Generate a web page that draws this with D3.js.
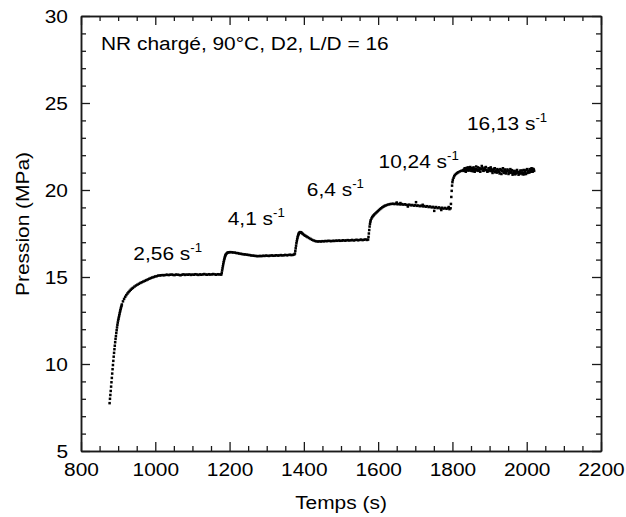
<!DOCTYPE html>
<html>
<head>
<meta charset="utf-8">
<script src="https://cdn.jsdelivr.net/npm/d3@7"></script>
<style>
  html, body { margin: 0; padding: 0; background: #fff; }
  svg text { font-family: "Liberation Sans", Arial, sans-serif; fill: #000; }
</style>
</head>
<body>
<svg id="chart" width="626" height="517"></svg>
<script>
// ---------- data ----------
const xTicks = [800, 1000, 1200, 1400, 1600, 1800, 2000, 2200];
const yTicks = [5, 10, 15, 20, 25, 30];

const rateLabels = ["2,56", "4,1", "6,4", "10,24", "16,13"];
const rateLabelX = [941, 1195, 1408, 1601, 1839];
const rateLabelY = [15.98, 17.99, 19.66, 21.26, 23.45];

const titleText = "NR chargé, 90°C, D2, L/D = 16";

// step 1 : 2,56 s-1
const t1 = [877,878,879,880,881,882,883,884,885,886,887,888,889,890,891,892,893,894,895,896,897,898,899,900,901,902,903,904,905,906,907,908,909,910,
  913,916,919,922,925,928,931,934,937,940,944,948,952,956,960,964,968,972,976,980,984,988,992,996,1000,1004,
  1008,1012,1016,1020,1024,1028,1032,1036,1040,1044,1048,1052,1056,1060,1064,1068,1072,1076,1080,1084,1088,1092,1096,1100,
  1104,1108,1112,1116,1120,1124,1128,1132,1136,1140,1144,1148,1152,1156,1160,1164,1168,1172,1176];
const p1 = [7.75,8.0,8.22,8.45,8.7,8.95,9.2,9.45,9.7,9.94,10.18,10.42,10.64,10.85,11.05,11.25,11.44,11.6,11.78,11.94,12.1,12.25,12.38,12.5,12.6,12.7,12.8,12.9,13.0,13.09,13.18,13.26,13.34,13.42,
  13.6,13.74,13.86,13.96,14.05,14.13,14.2,14.27,14.33,14.38,14.45,14.51,14.56,14.61,14.66,14.7,14.74,14.78,14.82,14.86,14.9,14.94,14.97,15.0,15.03,15.05,
  15.08,15.09,15.1,15.11,15.1,15.12,15.13,15.11,15.13,15.14,15.12,15.11,15.14,15.13,15.12,15.1,15.13,15.15,15.12,15.14,15.13,15.15,15.12,15.14,
  15.13,15.16,15.14,15.12,15.15,15.13,15.15,15.17,15.14,15.13,15.16,15.14,15.15,15.17,15.15,15.13,15.16,15.15,15.14];

// step 2 : 4,1 s-1
const t2 = [1178,1179,1180,1181,1182,1183,1184,1185,1186,1187,1188,1189,1190,1192,1194,1196,1199,1202,1206,1210,1214,1218,1222,1226,1230,1234,1238,1242,1246,1250,
  1254,1258,1262,1266,1270,1274,1278,1282,1286,1290,1294,1298,1302,1306,1310,1314,1318,1322,1326,1330,1334,1338,1342,1346,1350,1354,1358,1362,1366,1370,1374];
const p2 = [15.15,15.25,15.38,15.5,15.62,15.74,15.85,15.95,16.04,16.12,16.19,16.25,16.3,16.35,16.39,16.41,16.42,16.43,16.42,16.41,16.4,16.38,16.37,16.35,16.33,16.32,16.3,16.3,16.28,16.27,
  16.26,16.24,16.23,16.22,16.21,16.2,16.2,16.21,16.2,16.22,16.21,16.23,16.22,16.21,16.23,16.24,16.22,16.23,16.25,16.23,16.24,16.26,16.24,16.25,16.27,16.25,16.26,16.28,16.26,16.27,16.29];

// step 3 : 6,4 s-1
const t3 = [1376,1377,1378,1379,1380,1381,1382,1383,1384,1385,1386,1387,1388,1390,1392,1394,1396,1398,1401,1404,1407,1410,1414,1418,1422,1426,1430,1434,1438,1442,
  1446,1450,1454,1458,1462,1466,1470,1474,1478,1482,1486,1490,1494,1498,1502,1506,1510,1514,1518,1522,1526,1530,1534,1538,1542,1546,1550,1554,1558,1562,1566,1570,1573];
const p3 = [16.35,16.5,16.65,16.8,16.94,17.06,17.17,17.27,17.35,17.42,17.48,17.52,17.55,17.58,17.57,17.54,17.5,17.46,17.41,17.37,17.33,17.29,17.24,17.19,17.14,17.1,17.07,17.05,17.04,17.05,
  17.04,17.06,17.05,17.07,17.06,17.08,17.07,17.06,17.08,17.07,17.09,17.08,17.1,17.08,17.09,17.11,17.09,17.1,17.12,17.1,17.11,17.13,17.1,17.12,17.14,17.11,17.13,17.15,17.12,17.14,17.16,17.13,17.15];

// step 4 : 10,24 s-1
const t4 = [1574,1575,1576,1577,1578,1579,1580,1582,1584,1586,1588,1590,1593,1596,1599,1602,1605,1608,1611,1614,1617,1620,1624,1628,1632,1636,1640,1644,1648,1652,
  1656,1660,1664,1668,1672,1676,1680,1684,1688,1692,1696,1700,1704,1708,1712,1716,1720,1724,1728,1732,1736,1740,1744,1748,1752,1756,1760,1764,1768,1772,
  1776,1780,1784,1788,1792,1795,1702,1751,1650,1660,1680,1720,1770,1790];
const p4 = [17.3,17.5,17.7,17.9,18.05,18.17,18.26,18.36,18.44,18.5,18.55,18.6,18.66,18.72,18.78,18.84,18.9,18.95,19.0,19.04,19.08,19.11,19.14,19.17,19.19,19.2,19.21,19.19,19.22,19.18,
  19.2,19.17,19.19,19.16,19.18,19.15,19.13,19.16,19.12,19.14,19.1,19.13,19.09,19.11,19.07,19.1,19.06,19.08,19.04,19.07,19.02,19.05,19.0,19.03,18.98,19.02,18.96,19.0,18.94,18.98,
  18.93,18.97,18.92,18.96,18.9,18.95,19.3,18.8,19.28,19.25,19.05,19.15,18.85,19.02];

// step 5 : 16,13 s-1
const t5 = [1796,1797,1798,1799,1800,1801,1803,1805,1807,1810,1813,1816,1820,1824,1828,1831,1834,1837,1840,1843,1846,1849,1852,1855,1858,1861,1864,1867,1870,1873,
  1876,1879,1882,1885,1888,1891,1894,1897,1900,1903,1906,1909,1912,1915,1918,1921,1924,1927,1930,1933,1936,1939,1942,1945,1948,1951,1954,1957,1960,1963,
  1966,1969,1972,1975,1978,1981,1984,1987,1990,1993,1996,1999,2002,2005,2008,2011,2014,2017,2020];
const p5 = [19.2,19.6,19.95,20.25,20.45,20.58,20.7,20.8,20.87,20.93,20.98,21.02,21.07,21.1,21.13,21.18,21.1,21.22,21.15,21.3,21.12,21.2,21.26,21.08,21.22,21.15,21.35,21.18,21.1,21.25,
  21.2,21.38,21.12,21.22,21.28,21.15,21.05,21.24,21.18,21.3,21.08,21.15,21.22,21.02,21.12,21.2,21.06,20.95,21.15,21.08,21.25,20.98,21.1,21.03,21.18,20.92,21.08,21.0,21.14,20.95,
  21.05,20.9,21.1,21.0,20.88,21.05,20.95,21.12,21.0,20.9,21.08,21.15,20.98,21.1,21.2,21.05,21.15,21.22,21.1];
// step 5, interleaved readings (scatter band)
const t5b = [1830,1833,1836,1839,1842,1845,1848,1851,1854,1857,1860,1863,1866,1869,1872,1875,1878,1881,1884,1887,1890,1893,1896,1899,1902,1905,1908,1911,1914,1917,
  1920,1923,1926,1929,1932,1935,1938,1941,1944,1947,1950,1953,1956,1959,1962,1965,1968,1971,1974,1977,1980,1983,1986,1989,1992,1995,1998,2001,2004,2007,2010,2013,2016,2019];
const p5b = [21.1,21.25,21.05,21.28,21.12,21.22,21.32,21.1,21.18,21.3,21.05,21.2,21.12,21.3,21.15,21.05,21.22,21.28,21.1,21.18,21.32,21.12,21.08,21.25,21.1,21.2,20.98,21.1,21.25,21.08,
  21.0,21.15,21.05,21.2,20.92,21.12,21.05,21.18,20.95,21.08,21.12,20.98,21.2,21.02,20.88,21.1,21.0,20.95,21.15,21.02,20.92,21.12,21.0,20.9,21.15,21.02,20.92,21.2,21.05,21.0,21.15,21.25,21.05,21.18];

const segmentsT = [t1, t2, t3, t4, t5, t5b];
const segmentsP = [p1, p2, p3, p4, p5, p5b];

// ---------- drawing ----------
const svg = d3.select("#chart");
const L = 81, R = 601, T = 16, B = 451;
const FS = 19, SX = 1.1;
const x = d3.scaleLinear().domain([800, 2200]).range([L, R]);
const y = d3.scaleLinear().domain([5, 30]).range([B, T]);

const xMinor = d3.range(800, 2201, 50).filter(v => !xTicks.includes(v));
const yMinor = d3.range(5, 31, 1).filter(v => !yTicks.includes(v));

const axisColor = "#1a1a1a";
function styleAxis(g) {
  g.selectAll("path.domain").attr("stroke", axisColor).attr("stroke-width", 1.5);
  g.selectAll(".tick line").attr("stroke", axisColor).attr("stroke-width", 1.3);
}

// minor ticks
svg.append("g").attr("transform", `translate(0,${B})`)
  .call(d3.axisBottom(x).tickValues(xMinor).tickSize(-5).tickSizeOuter(0).tickFormat(""))
  .call(styleAxis);
svg.append("g").attr("transform", `translate(0,${T})`)
  .call(d3.axisTop(x).tickValues(xMinor).tickSize(-5).tickSizeOuter(0).tickFormat(""))
  .call(styleAxis);
svg.append("g").attr("transform", `translate(${L},0)`)
  .call(d3.axisLeft(y).tickValues(yMinor).tickSize(-5).tickSizeOuter(0).tickFormat(""))
  .call(styleAxis);
svg.append("g").attr("transform", `translate(${R},0)`)
  .call(d3.axisRight(y).tickValues(yMinor).tickSize(-5).tickSizeOuter(0).tickFormat(""))
  .call(styleAxis);

// major ticks + labels
const gx = svg.append("g").attr("transform", `translate(0,${B})`)
  .call(d3.axisBottom(x).tickValues(xTicks).tickSize(-9).tickSizeOuter(0).tickFormat(d3.format("d")))
  .call(styleAxis);
gx.selectAll(".tick text")
  .attr("y", 25).attr("dy", 0)
  .attr("font-size", FS).attr("fill", "#000")
  .attr("transform", `scale(${SX},1)`);

svg.append("g").attr("transform", `translate(0,${T})`)
  .call(d3.axisTop(x).tickValues(xTicks).tickSize(-9).tickSizeOuter(0).tickFormat(""))
  .call(styleAxis);

const gy = svg.append("g").attr("transform", `translate(${L},0)`)
  .call(d3.axisLeft(y).tickValues(yTicks).tickSize(-9).tickSizeOuter(0).tickFormat(d3.format("d")))
  .call(styleAxis);
gy.selectAll(".tick text")
  .attr("x", -13 / SX).attr("dy", 0).attr("y", 6.8)
  .attr("font-size", FS).attr("fill", "#000")
  .attr("transform", `scale(${SX},1)`);

svg.append("g").attr("transform", `translate(${R},0)`)
  .call(d3.axisRight(y).tickValues(yTicks).tickSize(-9).tickSizeOuter(0).tickFormat(""))
  .call(styleAxis);

svg.selectAll("g").attr("font-family", null);

// data points
const pts = [];
segmentsT.forEach((ts, i) => ts.forEach((t, j) => pts.push([t, segmentsP[i][j]])));
const DS = 2.5;
svg.append("g").selectAll("rect").data(pts).join("rect")
  .attr("x", d => x(d[0]) - DS / 2)
  .attr("y", d => y(d[1]) - DS / 2)
  .attr("width", DS).attr("height", DS)
  .attr("fill", "#000");

// axis titles
svg.append("text")
  .attr("transform", `translate(${(L + R) / 2},509) scale(${SX},1)`)
  .attr("text-anchor", "middle").attr("font-size", FS)
  .text("Temps (s)");
svg.append("text")
  .attr("transform", `translate(29,224) rotate(-90) scale(${SX},1)`)
  .attr("text-anchor", "middle").attr("font-size", FS)
  .text("Pression (MPa)");

// title annotation
svg.append("text")
  .attr("transform", `translate(101,50) scale(${SX},1)`)
  .attr("font-size", FS)
  .text(titleText);

// shear-rate labels
rateLabels.forEach((lab, i) => {
  const t = svg.append("text")
    .attr("transform", `translate(${x(rateLabelX[i])},${y(rateLabelY[i])}) scale(${SX},1)`)
    .attr("font-size", FS);
  t.append("tspan").text(lab + " s");
  t.append("tspan").attr("font-size", 12).attr("dy", -8).text("-1");
});
</script>
</body>
</html>
